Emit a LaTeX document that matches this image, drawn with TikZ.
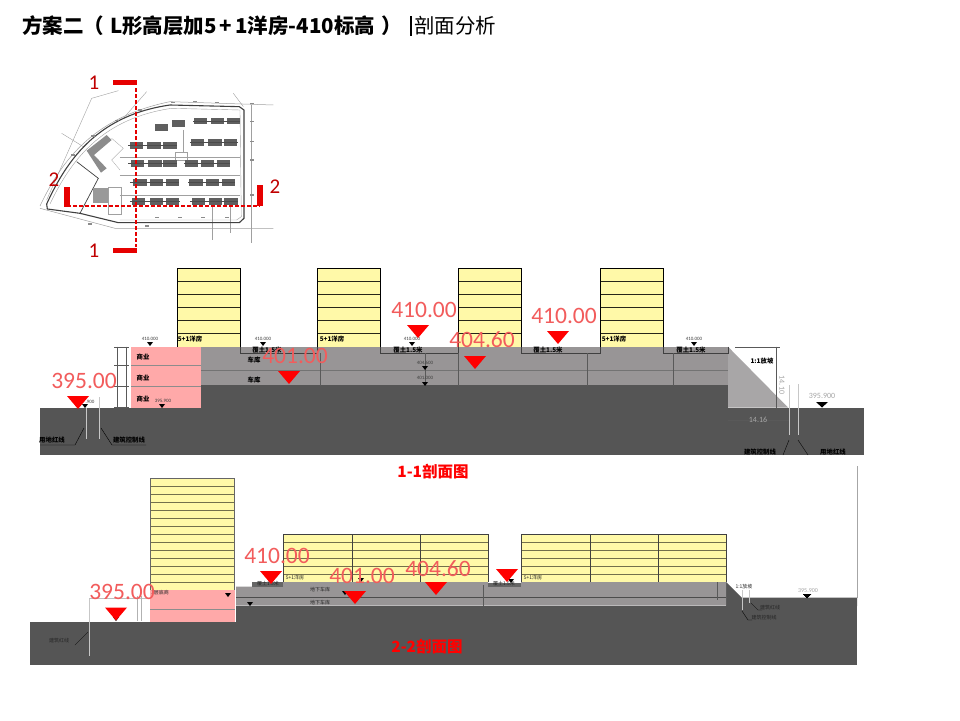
\documentclass[tikz,border=0pt]{standalone}
\usepackage{fontspec}
\setmainfont{Carlito}
\newfontfamily\cjk{Noto Sans CJK SC}
\definecolor{soil}{HTML}{555555}
\definecolor{band}{HTML}{989596}
\definecolor{slopefill}{HTML}{A8A6A7}
\definecolor{flat}{HTML}{FFF9A8}
\definecolor{shop}{HTML}{FFA9A9}
\definecolor{levelred}{HTML}{F25C5C}
\definecolor{cutred}{HTML}{E60000}
\definecolor{digitred}{HTML}{C00000}
\definecolor{planline}{HTML}{A0A0A0}
\definecolor{blockgrey}{HTML}{5F5F5F}
\tikzset{%
    floorline/.style={draw=black!85!flat, line width=0.8pt},
    thinline/.style={draw=black!65, line width=0.4pt},
    paleline/.style={draw=black!22, line width=0.8pt},
    leveltext/.style={text=levelred, font=\fontsize{23.5}{24}\selectfont, inner sep=0pt},
    tagtext/.style={text=black, font=\cjk\bfseries\fontsize{6.4}{7}\selectfont, inner sep=0pt},
    microtext/.style={text=black!85, font=\cjk\fontsize{5}{6}\selectfont, inner sep=0pt},
    numtext/.style={text=black!75, font=\fontsize{5}{5}\selectfont, inner sep=0pt},
    greytext/.style={text=black!35, font=\fontsize{8}{8}\selectfont, inner sep=0pt},
    cuttext/.style={text=red, font=\cjk\bfseries\fontsize{15.5}{16}\selectfont, inner sep=0pt},
    digittext/.style={text=digitred, font=\fontsize{21}{21}\selectfont, inner sep=0pt},
    cutline/.style={draw=cutred, line width=1.8pt, dash pattern=on 4pt off 2pt}
}
\newcommand{\levelmark}[2]{\fill[red] (#1-11,#2) -- (#1+11,#2) -- (#1,#2+13) -- cycle;}
\newcommand{\tinymark}[2]{\fill[black] (#1-3,#2-4) -- (#1+3,#2-4) -- (#1,#2) -- cycle;}
\begin{document}
\begin{tikzpicture}[x=1pt,y=-1pt]
    \useasboundingbox (0,0) rectangle (960,720);
    \fill[white] (0,0) rectangle (960,720);

    % title
    \node[anchor=west, inner sep=0pt, font=\cjk\bfseries\fontsize{20.5}{21}\selectfont] (title) at (22,26) {方案二（\hspace{6pt}L形高层加5\hspace{3pt}+\hspace{3pt}1洋房-410标高\hspace{6pt}）};
    \fill[black] (409.5,16) rectangle (412,36);
    \node[anchor=west, inner sep=0pt, font=\cjk\fontsize{20.5}{21}\selectfont] (subtitle) at (414,26) {剖面分析};

    % site plan, in crop units
    \begin{scope}[shift={(40,60)}, x=0.3333pt, y=-0.3333pt]
        \draw[planline, line width=0.5pt] (0,438) .. controls (70,290) and (170,170) .. (390,125) -- (700,135);
        \draw[planline, line width=0.5pt] (0,445) -- (225,505) -- (700,505);
        \draw[planline, line width=0.4pt] (20,420) -- (155,115) -- (235,92);
        \draw[planline, line width=0.4pt] (65,220) -- (130,260);
        \draw[planline, line width=0.4pt] (250,175) -- (320,95);
        \draw[planline, line width=0.4pt] (635,135) -- (635,550);
        \draw[planline, line width=0.4pt] (580,100) -- (610,140);
        \draw[planline, line width=0.3pt] (515,440) -- (515,540);
        \draw[planline, line width=0.3pt] (570,440) -- (570,520);
        \draw[planline, line width=0.3pt] (240,290) -- (600,290);
        \draw[planline, line width=0.3pt] (240,345) -- (600,345);
        \draw[planline, line width=0.3pt] (240,405) -- (600,405);
        \draw[planline, line width=0.3pt] (430,210) -- (430,280);
        \draw[planline, line width=0.3pt] (405,275) rectangle (440,300);
        \draw[planline, line width=0.3pt] (205,380) rectangle (242,462);
        \draw[planline, line width=0.3pt] (215,235) -- (250,265) -- (215,300) -- (240,330);
        \draw[black!75, line width=1.1pt] (20,432) .. controls (85,290) and (180,165) .. (390,135) -- (598,140) -- (612,150) -- (612,475) -- (598,488) -- (235,488) -- (120,460) -- (22,447) -- cycle;
        \draw[black!75, line width=0.7pt] (110,305) -- (175,355) -- (120,460);
        \draw[planline, line width=0.4pt] (30,432) .. controls (95,295) and (190,175) .. (395,145) -- (600,150) -- (604,470) -- (590,480) -- (240,480);
        % flats
        \foreach \bx/\by in {462/183,512/183,560/183,345/202,395/190,452/247,505/247,552/247,270/256,322/256,370/256,272/310,325/310,370/310,435/310,482/310,530/310,280/367,330/367,378/367,448/367,497/367,545/367,275/425,330/425,378/425,455/425,507/425,553/425}
            \fill[blockgrey] (\bx,\by-10) rectangle (\bx+40,\by+10);
        \foreach \ry/\ra/\rb in {256/265/410,247/450/595,183/460/600,310/265/410,310/432/570,367/270/418,367/445/585,425/270/420,425/450/595}
            \draw[black!70, line width=0.6pt] (\ra,\ry) -- (\rb,\ry);
        % marks along the edge
        \foreach \tx/\ty in {400/128,465/125,530/127,635/130,635/185,635/245,635/300,635/405,350/473,420/473,490/473,560/473,320/498,150/492,100/285,160/228,230/182,300/150}
            \fill[black!45] (\tx-6,\ty-2) rectangle (\tx+6,\ty+2);
        % highrise block
        \fill[black!45] (140,272) -- (200,225) -- (215,240) -- (162,285) -- (200,325) -- (183,338) -- cycle;
        \fill[black!40] (160,385) rectangle (203,430);
        % section cuts
        \draw[cutline] (288,85) -- (288,562);
        \draw[cutline] (82,437) -- (660,437);
        \fill[cutred] (218,60) rectangle (291,76);
        \fill[cutred] (218,565) rectangle (291,580);
        \fill[cutred] (72,382) rectangle (90,440);
        \fill[cutred] (650,375) rectangle (668,437);
    \end{scope}
    \node[digittext] (cuta) at (94,83) {1};
    \node[digittext] (cutb) at (94,251) {1};
    \node[digittext] (cutc) at (54,180) {2};
    \node[digittext] (cutd) at (275,187) {2};

    % section 1-1
    \fill[soil] (40,407.5) rectangle (864,455);
    \fill[soil] (201,385) rectangle (728,408);
    \fill[band] (201,346.7) rectangle (728,385);
    \draw[black!55, line width=0.5pt] (201,370) -- (728,370);
    \fill[slopefill] (728,346.7) -- (788,407.5) -- (728,407.5) -- cycle;
    \fill[shop] (131,346.7) rectangle (201,407.5);
    \draw[black!45, line width=0.5pt] (131,365) -- (201,365);
    \draw[black!45, line width=0.5pt] (131,386) -- (201,386);
    \foreach \bx in {177,317,458,600} {
        \fill[flat] (\bx,268) rectangle (\bx+63,346.7);
        \foreach \fy in {281,294,307,320,333}
            \draw[floorline] (\bx,\fy) -- (\bx+63,\fy);
        \draw[black, line width=0.8pt] (\bx,346.7) -- (\bx,268) -- (\bx+63,268) -- (\bx+63,346.7);
    }
    \foreach \na/\nb in {240/317,380/458,521/600,663/728} {
        \draw[black!75, line width=0.6pt] (\na,346.7) -- (\na,353) -- (\nb,353) -- (\nb,346.7);
    }
    \foreach \dx in {320,458,587,673}
        \draw[thinline] (\dx,353) -- (\dx,386);
    \draw[thinline] (425,353) -- (425,386);
    \draw[thinline] (117,346.7) -- (117,407.5);
    \draw[thinline] (126,346.7) -- (126,407.5);
    \foreach \ty in {346.7,365,386,407.5}
        \draw[thinline] (114,\ty) -- (129,\ty);
    \draw[thinline] (735,346.7) -- (780,346.7);
    \draw[thinline] (776,346.7) -- (776,407.5);
    \draw[thinline] (728,420) -- (790,420);
    \draw[paleline] (86,407.5) -- (86,439);
    \draw[paleline] (99,397) -- (99,439);
    \draw[paleline] (789,385) -- (789,435);
    \draw[paleline] (798,384) -- (798,435);
    \draw[black, line width=0.4pt] (84,428) -- (75,445) -- (40,445);
    \draw[black, line width=0.4pt] (101,428) -- (112,445) -- (146,445);
    \draw[black, line width=0.4pt] (789,440) -- (783,455);
    \draw[black, line width=0.4pt] (798,440) -- (808,455);
    \foreach \i/\tx/\ty in {a/143/357,b/143/378,c/143/399}
        \node[tagtext] (shop\i) at (\tx,\ty) {商业};
    \foreach \i/\tx in {a/190,b/332,c/614}
        \node[tagtext] (flatlabel\i) at (\tx,339) {5+1洋房};
    \foreach \i/\tx in {a/267,b/408,c/548,d/691}
        \node[tagtext] (coverlabel\i) at (\tx,350) {覆土1.5米};
    \node[tagtext] (garagea) at (254,360) {车库};
    \node[tagtext] (garageb) at (254,380) {车库};
    \foreach \i/\tx in {a/150,b/263,c/412,d/694} {
        \node[numtext] (topnum\i) at (\tx,339) {410.000};
        \tinymark{\tx}{346}
    }
    \node[numtext] (numa) at (425,363) {404.600};
    \tinymark{425}{370}
    \node[numtext] (numb) at (425,378) {401.000};
    \tinymark{425}{386}
    \node[numtext] (numc) at (163,401) {395.900};
    \tinymark{162}{408}
    \node[numtext] (numd) at (90,402) {.900};
    \tinymark{85}{408}
    \node[greytext] (nume) at (822,396) {395.900};
    \fill[black] (816,402) -- (828,402) -- (822,407.5) -- cycle;
    \node[tagtext] (slopelabel) at (762,361) {1:1放坡};
    \node[greytext, rotate=-90] (heightlabel) at (782,385) {14.10};
    \node[greytext] (runlabel) at (758,420) {14.16};
    \node[tagtext] (linea) at (52,440) {用地红线};
    \node[tagtext] (lineb) at (129,440) {建筑控制线};
    \node[tagtext] (linec) at (760,452) {建筑控制线};
    \node[tagtext] (lined) at (833,452) {用地红线};
    \node[cuttext] (cutnamea) at (433,472) {1-1剖面图};

    % section 2-2
    \draw[black!35, line width=0.7pt] (857,466) -- (857,598);
    \fill[soil] (30,621.7) rectangle (857,665);
    \fill[soil] (236,605.7) rectangle (857,622);
    \fill[soil] (726,582) -- (741.7,597.7) -- (857,597.7) -- (857,606) -- (726,606) -- cycle;
    \fill[band] (236,586.7) -- (283,586.7) -- (283,582) -- (488,582) -- (488,586.7) -- (521,586.7) -- (521,582) -- (726,582) -- (726,605.7) -- (236,605.7) -- cycle;
    \draw[black!70, line width=0.9pt] (236,597) -- (726,597);
    \fill[black!60] (252,582) rectangle (283,587);
    \fill[black!60] (488,582.5) rectangle (521,587);
    \fill[shop] (150,590) rectangle (235,621.7);
    \draw[black!45, line width=0.5pt] (150,609) -- (235,609);
    \fill[flat] (150,478) rectangle (234,590);
    \foreach \k in {1,...,13}
        \draw[draw=black!55!flat, line width=0.6pt] (150,478+8*\k) -- (234,478+8*\k);
    \draw[black!60, line width=0.6pt] (150,590) -- (150,478) -- (234,478) -- (234,590);
    \foreach \bx/\bw in {283/205,521/205} {
        \fill[flat] (\bx,534) rectangle (\bx+\bw,582);
        \foreach \fy in {542,550,558,566,574}
            \draw[draw=black!55!flat, line width=0.7pt] (\bx,\fy) -- (\bx+\bw,\fy);
        \draw[black!75, line width=0.6pt] (\bx,582) -- (\bx,534) -- (\bx+\bw,534) -- (\bx+\bw,582);
        \draw[black!75, line width=0.6pt] (\bx+69,534) -- (\bx+69,582);
        \draw[black!75, line width=0.6pt] (\bx+137,534) -- (\bx+137,582);
    }
    \draw[paleline] (89,598) -- (89,656);
    \draw[thinline, draw=black!25] (89,598) -- (150,598);
    \draw[thinline, draw=black!30] (137,596) -- (137,621);
    \draw[thinline, draw=black!30] (141,596) -- (141,621);
    \draw[black, line width=0.3pt] (88,632) -- (75,645);
    \draw[thinline] (483,585) -- (483,606);
    \draw[thinline] (717,582) -- (717,600);
    \draw[paleline] (742,590) -- (742,610);
    \draw[paleline] (749,590) -- (749,603);
    \draw[black, line width=0.3pt] (742,611) -- (748,620) -- (752,620);
    \draw[black, line width=0.3pt] (751,603) -- (758,610) -- (762,610);
    \foreach \mx/\my in {228/597,250/606,345/595,361/582,511/583,116/621}
        \tinymark{\mx}{\my}
    \fill[black] (803,594) -- (811,594) -- (807,598) -- cycle;
    \node[microtext] (towerlabel) at (160,593) {1层底商};
    \node[microtext] (rowlabela) at (295,578) {5+1洋房};
    \node[microtext] (rowlabelb) at (533,578) {5+1洋房};
    \node[microtext] (coverlabele) at (268,584) {覆土1.5米};
    \node[microtext] (coverlabelf) at (504,584) {覆土1.5米};
    \node[microtext] (garagec) at (320,590) {地下车库};
    \node[microtext] (garaged) at (320,603) {地下车库};
    \node[microtext] (slopelabelb) at (744,587) {1:1放坡};
    \node[microtext] (linee) at (59,641) {建筑红线};
    \node[microtext] (linef) at (770,608) {建筑红线};
    \node[microtext] (lineg) at (764,618) {建筑控制线};
    \node[greytext, font=\fontsize{6}{6}\selectfont] (numf) at (808,591) {395.900};
    \node[cuttext] (cutnameb) at (427,647) {2-2剖面图};

    % red levels on top
    \levelmark{78}{396}
    \levelmark{289}{371}
    \levelmark{418}{325}
    \levelmark{475}{356}
    \levelmark{558}{331}
    \levelmark{116}{607.5}
    \levelmark{271}{571}
    \levelmark{355}{591}
    \levelmark{436}{582}
    \levelmark{507}{569}
    \node[leveltext] (levela) at (84,381) {395.00};
    \node[leveltext] (levelb) at (295,356) {401.00};
    \node[leveltext] (levelc) at (424,310) {410.00};
    \node[leveltext] (leveld) at (482,340) {404.60};
    \node[leveltext] (levele) at (564,316) {410.00};
    \node[leveltext] (levelf) at (122,592) {395.00};
    \node[leveltext] (levelg) at (277,556) {410.00};
    \node[leveltext] (levelh) at (362,576) {401.00};
    \node[leveltext] (leveli) at (438,569) {404.60};
\end{tikzpicture}
\end{document}
